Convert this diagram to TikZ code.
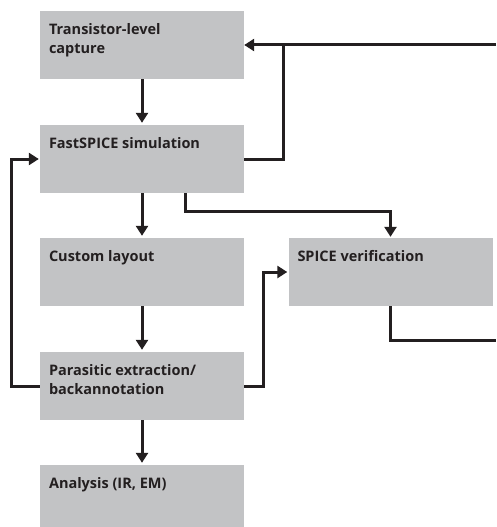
\documentclass[tikz,border=0pt]{standalone}
\usepackage{fontspec}
\setmainfont{Open Sans}
\usetikzlibrary{arrows.meta,calc}
\definecolor{boxgray}{RGB}{194,195,197}
\definecolor{ink}{RGB}{35,31,32}
\begin{document}
\begin{tikzpicture}[x=1pt,y=-1pt,
  stagebox/.style={fill=boxgray,draw=none,minimum width=204pt,minimum height=68pt,inner sep=0pt},
  boxtext/.style={anchor=north west,inner sep=0pt,align=left,text=ink,font=\fontsize{14.5}{19}\selectfont\bfseries},
  flow/.style={draw=ink,line width=3pt,-{Triangle[length=10pt,width=12pt]}},
  wire/.style={draw=ink,line width=3pt}]
\useasboundingbox (0,0) rectangle (496,527);
\node[stagebox] (tl) at (142,45) {};
\node[stagebox] (fs) at (142,159) {};
\node[stagebox] (cl) at (142,272) {};
\node[stagebox] (pe) at (142,386) {};
\node[stagebox] (an) at (142,499) {};
\node[stagebox] (sv) at (390.5,272) {};
\node[boxtext] (tlt) at ($(tl.north west)+(9,12)$) {Transistor-level\\capture};
\node[boxtext] (fst) at ($(fs.north west)+(9,12)$) {FastSPICE simulation};
\node[boxtext] (clt) at ($(cl.north west)+(9,12)$) {Custom layout};
\node[boxtext] (pet) at ($(pe.north west)+(9,12)$) {Parasitic extraction/\\backannotation};
\node[boxtext] (ant) at ($(an.north west)+(9,12)$) {Analysis (IR, EM)};
\node[boxtext] (svt) at ($(sv.north west)+(9,12)$) {SPICE verification};
\coordinate (r1) at (496,45);
\coordinate (r2) at (496,340);
\coordinate (j1) at (283,45);
% main chain
\draw[flow,shorten >=2pt] (tl.south) -- (fs.north);
\draw[flow,shorten >=2pt] (fs.south) -- (cl.north);
\draw[flow,shorten >=2pt] (cl.south) -- (pe.north);
\draw[flow,shorten >=2pt] (pe.south) -- (an.north);
% feedback to capture
\draw[wire] (r1) -- (j1);
\draw[flow] (fs.east) -| (j1) -- (tl.east);
% FastSPICE to SPICE verification
\draw[flow,shorten >=1pt] ([xshift=43pt]fs.south) -- ++(0,18) -| (sv.north);
% SPICE verification out
\draw[wire] (sv.south) |- (r2);
% parasitic back to FastSPICE
\draw[flow,shorten >=1pt] (pe.west) -- ++(-28,0) |- (fs.west);
% parasitic to SPICE verification
\draw[flow,shorten >=1pt] (pe.east) -- ++(19,0) |- (sv.west);
\end{tikzpicture}
\end{document}
